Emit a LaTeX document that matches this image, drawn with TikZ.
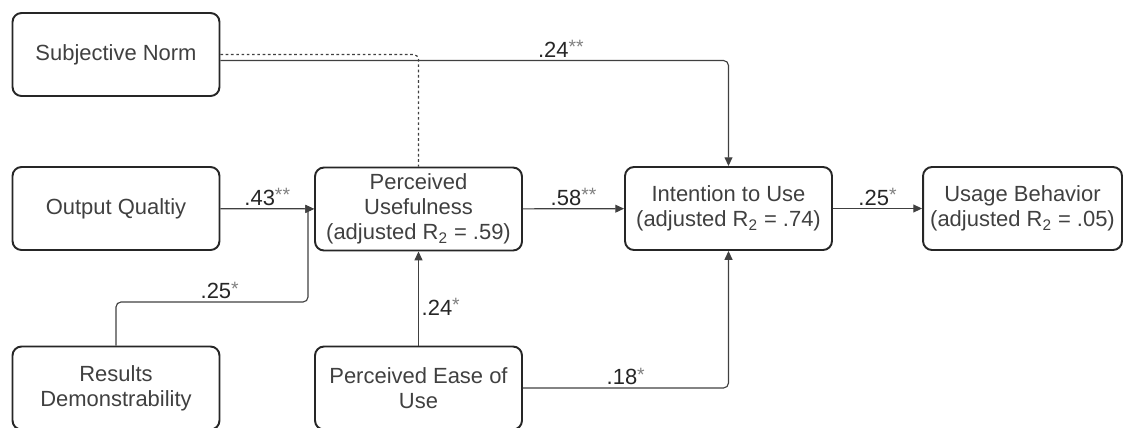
\documentclass[tikz,border=0pt]{standalone}
\usepackage{fontspec}
\setmainfont{Liberation Sans}
\usetikzlibrary{arrows.meta}
\tikzset{factor/.style={draw=black!85, line width=1.1pt, rounded corners=0.18cm,
		align=center, minimum width=4.14cm, minimum height=1.66cm, inner sep=2pt,
		text=black!75, font=\fontsize{12.5}{14.2}\selectfont},
	link/.style={draw=black!75, line width=0.65pt, rounded corners=0.1cm},
	arrow/.style={link, -{Triangle[length=5pt,width=4.5pt]}},
	coef/.style={text=black!85, font=\fontsize{12.5}{14}\selectfont, inner sep=1.5pt}}
\newcommand{\sig}[1]{\raisebox{0.3ex}{\fontsize{11}{11}\selectfont\color{black!50}#1}}

\begin{document}
\begin{tikzpicture}[x=0.02cm,y=-0.02cm]
	\useasboundingbox (0,0) rectangle (1125,427);
	% factors
	\node[factor](sn)at(116,54.5){Subjective Norm};
	\node[factor](oq)at(116,208.5){Output Qualtiy};
	\node[factor](rd)at(116,388){Results\\Demonstrability};
	\node[factor](pu)at(418.5,209){Perceived\\Usefulness\\(adjusted R\textsubscript{2} = .59)};
	\node[factor](peou)at(418.5,388){Perceived Ease of\\Use};
	\node[factor](itu)at(728.5,208.5){Intention to Use\\(adjusted R\textsubscript{2} = .74)};
	\node[factor,minimum width=3.98cm](ub)at(1022.5,208.5){Usage Behavior\\(adjusted R\textsubscript{2} = .05)};
	
	% paths
	\draw[link,dash pattern=on 1.5pt off 1.5pt](sn.east)-|(pu.north);
	\draw[arrow]([yshift=-0.12cm]sn.east)--node[coef,above,pos=0.67]{.24\sig{**}}([yshift=-0.12cm]sn.east-|itu.north)--(itu.north);
	\draw[arrow](oq)--node[coef,above]{.43\sig{**}}(pu);
	\draw[arrow](pu)--node[coef,above]{.58\sig{**}}(itu);
	\draw[arrow](itu)--node[coef,above]{.25\sig{*}}(ub);
	\coordinate(rdknee)at(308,302);
	\draw[arrow](rd.north)|-node[coef,above,pos=0.77]{.25\sig{*}}(rdknee)[sharp corners]|-(pu.west);
	\draw[arrow](peou)--node[coef,right,pos=0.41]{.24\sig{*}}(pu);
	\draw[arrow](peou.east)-|node[coef,above,pos=0.25]{.18\sig{*}}(itu.south);
\end{tikzpicture}
\end{document}
